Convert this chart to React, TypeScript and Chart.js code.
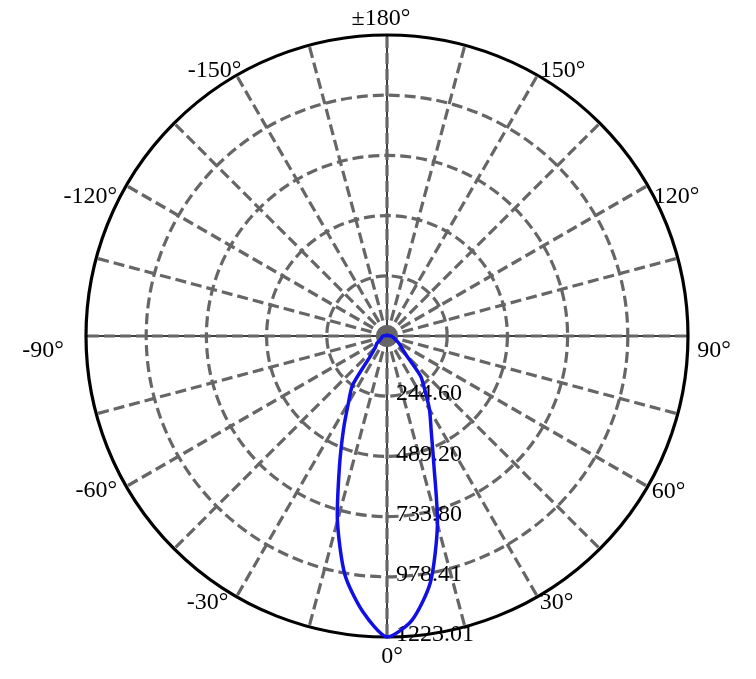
import React, { useEffect, useRef } from "react";
import { Chart, registerables } from "chart.js";

Chart.register(...registerables);

// gamma angle of each sample, in the order the radar walks round (clockwise from the top)
const gammaDeg = [
  180, 175, 170, 165, 160, 155, 150, 145, 140, 135, 130, 125, 120, 115, 110, 105, 100, 95,
  90, 85, 80, 75, 70, 65, 60, 55, 50, 45, 40, 35, 30, 25, 20, 15, 10, 5,
  0, -5, -10, -15, -20, -25, -30, -35, -40, -45, -50, -55, -60, -65, -70, -75, -80, -85,
  -90, -95, -100, -105, -110, -115, -120, -125, -130, -135, -140, -145, -150, -155, -160, -165, -170, -175,
];

// luminous intensity (cd)
const intensityCd = [
  4, 4, 4, 4, 4, 4, 4, 4, 4, 4, 4, 4, 4, 4, 4, 6, 8, 12,
  16, 20, 24, 28, 33, 41, 53, 65, 81, 112, 212, 268, 345, 425, 557, 792, 1016, 1160,
  1223.007, 1125, 985, 778, 565, 418, 313, 244, 100, 69, 57, 49, 33, 28, 24, 22, 20, 18,
  16, 12, 8, 6, 4, 4, 4, 4, 4, 4, 4, 4, 4, 4, 4, 4, 4, 4,
];

const ringMax = 1223.007;
const ringCount = 6; // 0 + five rings

const angleLabelDeg = [0, 30, 60, 90, 120, 150, 180, -150, -120, -90, -60, -30];

const GRID_GRAY = "#666666";
const CURVE_BLUE = "#1010e6";
const FONT = '24px "Liberation Serif", "Times New Roman", serif';

// where each angle label's centre sits relative to its point on the rim
const labelNudge: Record<number, [number, number]> = {
  0: [5, 20],
  30: [19, 6],
  60: [21, 5],
  90: [26, 15],
  120: [29, 11],
  150: [25, -5],
  180: [-6, -16],
  [-150]: [-22, -5],
  [-120]: [-36, 11],
  [-90]: [-43, 15],
  [-60]: [-30, 4],
  [-30]: [-29, 6],
};

const polarDecor = {
  id: "polarDecor",
  beforeDraw(chart: Chart) {
    const s = chart.scales.r as any;
    const ctx = chart.ctx;
    const R = s.drawingArea;
    ctx.save();
    ctx.strokeStyle = "#000";
    ctx.lineWidth = 1.5;
    ctx.beginPath();
    ctx.moveTo(s.xCenter - R, s.yCenter);
    ctx.lineTo(s.xCenter + R, s.yCenter);
    ctx.moveTo(s.xCenter, s.yCenter - R);
    ctx.lineTo(s.xCenter, s.yCenter + R);
    ctx.stroke();
    ctx.restore();
  },
  beforeDatasetsDraw(chart: Chart) {
    const s = chart.scales.r as any;
    const ctx = chart.ctx;
    const R = s.getDistanceFromCenterForValue(s.max);
    ctx.save();

    // outer rim
    ctx.strokeStyle = "#000";
    ctx.lineWidth = 3.2;
    ctx.beginPath();
    ctx.arc(s.xCenter, s.yCenter, R, 0, Math.PI * 2);
    ctx.stroke();

    ctx.font = FONT;
    ctx.fillStyle = "#000";

    // ring values down the 0° line
    ctx.textAlign = "left";
    ctx.textBaseline = "middle";
    s.ticks.forEach((t: any, i: number) => {
      if (i === 0) return;
      const d = s.getDistanceFromCenterForValue(t.value);
      ctx.fillText(t.value.toFixed(2), s.xCenter + 9, s.yCenter + d - 2);
    });

    // angle labels
    ctx.textAlign = "center";
    angleLabelDeg.forEach((a) => {
      const idx = gammaDeg.indexOf(a);
      const p = s.getPointPosition(idx, R);
      const [dx, dy] = labelNudge[a];
      const text = a === 180 ? "±180°" : `${a}°`;
      ctx.fillText(text, p.x + dx, p.y + dy);
    });
    ctx.restore();
  },
};

const PolarIntensity: React.FC = () => {
  const canvasRef = useRef<HTMLCanvasElement | null>(null);
  const chartRef = useRef<Chart | null>(null);

  useEffect(() => {
    if (!canvasRef.current) return;
    chartRef.current = new Chart(canvasRef.current, {
      type: "radar",
      data: {
        labels: gammaDeg.map((a) => `${a}°`),
        datasets: [
          {
            data: intensityCd,
            borderColor: CURVE_BLUE,
            borderWidth: 3.5,
            borderJoinStyle: "round",
            pointRadius: 0,
            pointHoverRadius: 0,
            fill: false,
            tension: 0.25,
          },
        ],
      },
      options: {
        responsive: true,
        maintainAspectRatio: false,
        animation: false,
        events: [],
        layout: { padding: { left: 78, right: 60, top: 27, bottom: 34 } },
        plugins: {
          legend: { display: false },
          tooltip: { enabled: false },
        },
        scales: {
          r: {
            min: 0,
            max: ringMax,
            startAngle: 0,
            ticks: { display: false, count: ringCount },
            pointLabels: { display: false },
            grid: {
              circular: true,
              color: GRID_GRAY,
              lineWidth: (c: any) => (c.index === ringCount - 1 ? 0 : 3.2),
            },
            border: { dash: [11, 5] },
            angleLines: {
              color: GRID_GRAY,
              lineWidth: (c: any) => (c.index % 3 === 0 ? 3.2 : 0),
              borderDash: [11, 5],
            },
          },
        },
      },
      plugins: [polarDecor],
    } as any);

    return () => {
      chartRef.current?.destroy();
      chartRef.current = null;
    };
  }, []);

  return (
    <div style={{ position: "relative", width: 740, height: 663 }}>
      <canvas ref={canvasRef} />
    </div>
  );
};

export default function App() {
  return <PolarIntensity />;
}
